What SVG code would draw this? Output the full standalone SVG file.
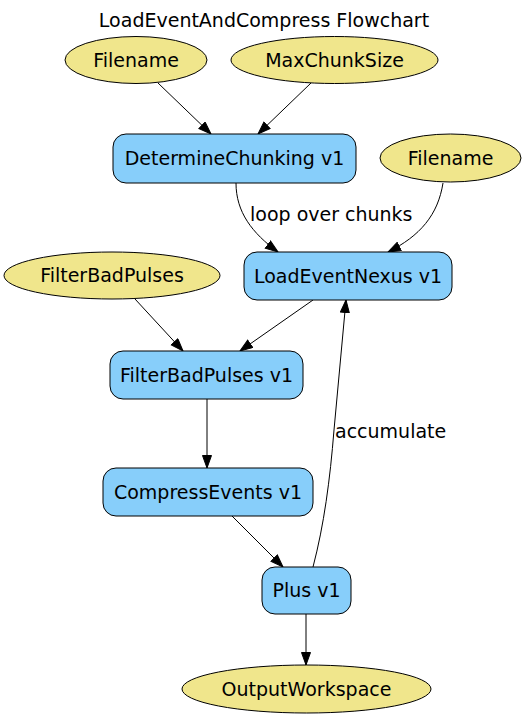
<svg xmlns="http://www.w3.org/2000/svg" width="527" height="719" viewBox="0 0 527 719">
<defs>
<style>
text{font-family:"DejaVu Sans","Liberation Sans",sans-serif;font-size:19px;fill:#000}
.t{text-anchor:middle}
.d{fill:#f0e68c;stroke:#000;stroke-width:1}
.a{fill:#87cefa;stroke:#000;stroke-width:1}
.e{fill:none;stroke:#000;stroke-width:1}
</style>
<marker id="ah" markerUnits="userSpaceOnUse" markerWidth="14" markerHeight="12" refX="13" refY="5" orient="auto">
<path d="M0.5,0.5 L13,5 L0.5,9.5 Z" fill="#000" stroke="#000"/>
</marker>
</defs>
<rect width="527" height="719" fill="#fff"/>
<text class="t" x="264" y="26.5">LoadEventAndCompress Flowchart</text>
<g id="connectors">
<path class="e" d="M158,83 L211,134" marker-end="url(#ah)"/>
<path class="e" d="M311,83 L258,134" marker-end="url(#ah)"/>
<path class="e" d="M236,183 C236,212 252,233 278,252" marker-end="url(#ah)"/>
<path class="e" d="M443,183 C438,215 420,236 388,252" marker-end="url(#ah)"/>
<path class="e" d="M313,300 L240,351" marker-end="url(#ah)"/>
<path class="e" d="M135,299 L183,351" marker-end="url(#ah)"/>
<path class="e" d="M207,399 L207,468" marker-end="url(#ah)"/>
<path class="e" d="M232,516 L283,567" marker-end="url(#ah)"/>
<path class="e" d="M313,567 C324,525 330,480 334,430 L346,300" marker-end="url(#ah)"/>
<path class="e" d="M306,614 L306,665" marker-end="url(#ah)"/>
<text x="250" y="221">loop over chunks</text>
<text x="335" y="438">accumulate</text>
</g>
<g id="filename1"><ellipse class="d" cx="136" cy="60" rx="71" ry="23.5"/><text class="t" x="136" y="66.5">Filename</text></g>
<g id="maxchunksize"><ellipse class="d" cx="334.5" cy="60" rx="103.5" ry="23.5"/><text class="t" x="334.5" y="66.5">MaxChunkSize</text></g>
<g id="determinechunking"><rect class="a" x="113" y="134" width="243" height="49" rx="13"/><text class="t" x="234.5" y="165">DetermineChunking v1</text></g>
<g id="filename2"><ellipse class="d" cx="450.5" cy="158" rx="70.5" ry="24"/><text class="t" x="450.5" y="164.5">Filename</text></g>
<g id="loadeventnexus"><rect class="a" x="244" y="252" width="208" height="48" rx="13"/><text class="t" x="348" y="282.5">LoadEventNexus v1</text></g>
<g id="filterbadpulses"><ellipse class="d" cx="112" cy="275.5" rx="108" ry="23.5"/><text class="t" x="112" y="282">FilterBadPulses</text></g>
<g id="filterbadpulsesv1"><rect class="a" x="110" y="351" width="193" height="48" rx="13"/><text class="t" x="206.5" y="381.5">FilterBadPulses v1</text></g>
<g id="compressevents"><rect class="a" x="103" y="468" width="210" height="48" rx="13"/><text class="t" x="208" y="498.5">CompressEvents v1</text></g>
<g id="plus"><rect class="a" x="262" y="567" width="89" height="47" rx="13"/><text class="t" x="306.5" y="597">Plus v1</text></g>
<g id="outputworkspace"><ellipse class="d" cx="306.5" cy="689" rx="124.5" ry="24"/><text class="t" x="306.5" y="695.5">OutputWorkspace</text></g>
</svg>
